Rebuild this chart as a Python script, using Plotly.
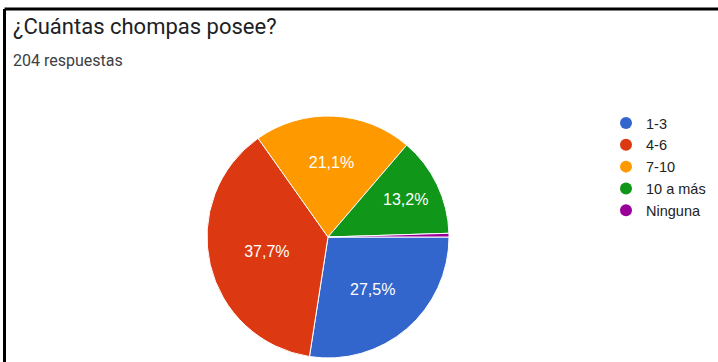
import plotly.graph_objects as go

categories = ["1-3", "4-6", "7-10", "10 a más", "Ninguna"]
counts = [56, 77, 43, 27, 1]
slice_labels = ["27,5%", "37,7%", "21,1%", "13,2%", ""]
colors = ["#3366CC", "#DC3912", "#FF9900", "#109618", "#990099"]
title_text = "¿Cuántas chompas posee?"
subtitle_text = "204 respuestas"

W, H = 718, 362
fig = go.Figure()

fig.add_trace(go.Pie(
    labels=categories,
    values=counts,
    text=slice_labels,
    textinfo="text",
    textposition="inside",
    insidetextorientation="horizontal",
    textfont=dict(family="Liberation Sans, Arial", size=16, color="white"),
    marker=dict(colors=colors, line=dict(color="white", width=1)),
    sort=False,
    direction="clockwise",
    rotation=90,
    showlegend=False,
    hoverinfo="label+percent",
    domain=dict(x=[207 / W, 449 / W], y=[4 / H, 246 / H]),
))

for cat, col in zip(categories, colors):
    fig.add_trace(go.Scatter(
        x=[None], y=[None], mode="markers", name=cat,
        marker=dict(symbol="circle", size=14, color=col),
        showlegend=True,
    ))

fig.update_layout(
    width=W, height=H,
    margin=dict(l=0, r=0, t=0, b=0),
    paper_bgcolor="white", plot_bgcolor="white",
    xaxis=dict(visible=False), yaxis=dict(visible=False),
    legend=dict(
        x=606 / W, y=1 - 107 / H, xanchor="left", yanchor="top",
        font=dict(family="Liberation Sans, Arial", size=14.5, color="#222222"),
        bgcolor="rgba(0,0,0,0)", itemsizing="constant",
        tracegroupgap=0,
    ),
    annotations=[
        dict(text=title_text, x=11 / W, y=1 - 27 / H, xref="paper", yref="paper",
             xanchor="left", yanchor="middle", showarrow=False,
             font=dict(family="Roboto", size=22, color="#202124")),
        dict(text=subtitle_text, x=11 / W, y=1 - 60 / H, xref="paper", yref="paper",
             xanchor="left", yanchor="middle", showarrow=False,
             font=dict(family="Roboto", size=16, color="#3c4043")),
    ],
    shapes=[
        dict(type="line", xref="paper", yref="paper", x0=4.5 / W, x1=1, y0=1 - 9 / H, y1=1 - 9 / H,
             line=dict(color="black", width=3)),
        dict(type="line", xref="paper", yref="paper", x0=4.5 / W, x1=4.5 / W, y0=0, y1=1 - 9 / H,
             line=dict(color="black", width=3)),
    ],
)

fig.write_html("out.html")
